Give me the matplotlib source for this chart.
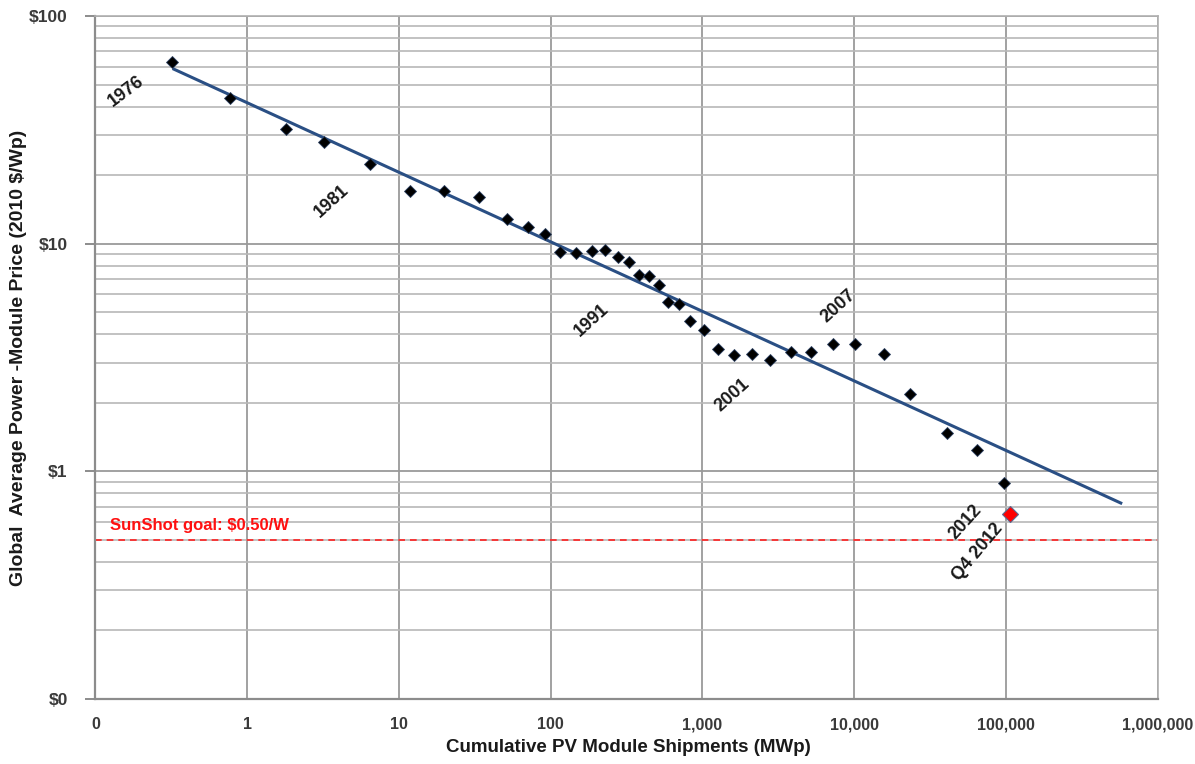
import numpy as np
import matplotlib
matplotlib.use("Agg")
import matplotlib.pyplot as plt
from matplotlib.ticker import FixedLocator, NullFormatter

# Datos (MWp acumulados, $/Wp 2010)
envios = [0.32, 0.77, 1.80, 3.22, 6.49, 11.9, 19.7, 33.5, 51.2, 70.4, 92.0,
          115, 146, 187, 227, 277, 330, 382, 446, 520, 590, 703, 832, 1018,
          1259, 1604, 2127, 2769, 3804, 5170, 7225, 10120, 15630, 23170,
          40600, 64300, 97300]
precio = [62.9, 43.5, 31.8, 28.1, 22.4, 17.0, 17.0, 16.1, 12.9, 11.8, 11.07,
          9.22, 9.13, 9.29, 9.38, 8.71, 8.27, 7.32, 7.21, 6.60, 5.53, 5.46,
          4.59, 4.19, 3.44, 3.24, 3.29, 3.09, 3.34, 3.34, 3.64, 3.64, 3.29,
          2.18, 1.475, 1.24, 0.888]

# Punto Q4 2012
q4_x = [106600]
q4_y = [0.651]

# Linea de tendencia (extremos)
tend_x = [0.322, 583000]
tend_y = [58.8, 0.721]

meta_sunshot = 0.50

ticks_x = [0.1, 1, 10, 100, 1000, 10000, 100000, 1000000]
etiq_x = ["0", "1", "10", "100", "1,000", "10,000", "100,000", "1,000,000"]
ticks_y = [0.1, 1, 10, 100]
etiq_y = ["$0", "$1", "$10", "$100"]

# Etiquetas de anios: (texto, x, y, rotacion)
anios = [("1976", 0.16, 46.9, 37),
         ("1981", 3.58, 15.4, 42),
         ("1991", 186, 4.59, 42),
         ("2001", 1581, 2.16, 42),
         ("2007", 7910, 5.34, 42),
         ("2012", 53900, 0.598, 48),
         ("Q4 2012", 65000, 0.44, 50)]

fuente = "Liberation Sans"

fig = plt.figure(figsize=(11.95, 7.64), dpi=100)
ax = fig.add_axes([0.0799, 0.0851, 0.8889, 0.8939])

ax.set_xscale("log")
ax.set_yscale("log")
ax.set_xlim(0.1, 1000000)
ax.set_ylim(0.1, 100)

# Rejilla
ax.xaxis.set_major_locator(FixedLocator(ticks_x))
ax.yaxis.set_major_locator(FixedLocator(ticks_y))
menores_y = [m * 10.0 ** e for e in range(-1, 2) for m in range(2, 10)]
ax.yaxis.set_minor_locator(FixedLocator(menores_y))
ax.xaxis.set_minor_locator(FixedLocator([]))
ax.yaxis.set_minor_formatter(NullFormatter())
ax.grid(True, which="major", axis="x", color="#9a9a9a", lw=1.3)
ax.grid(True, which="major", axis="y", color="#9a9a9a", lw=1.3)
ax.grid(True, which="minor", axis="y", color="#b8b8b8", lw=1.2)
ax.set_axisbelow(True)

for lado in ["top", "right"]:
    ax.spines[lado].set_color("#b0b0b0")
    ax.spines[lado].set_linewidth(1.2)
for lado in ["left", "bottom"]:
    ax.spines[lado].set_color("#8c8c8c")
    ax.spines[lado].set_linewidth(1.6)

ax.set_xticks(ticks_x)
ax.set_xticklabels(etiq_x)
ax.set_yticks(ticks_y)
ax.set_yticklabels(etiq_y)
ax.tick_params(axis="x", which="both", length=0, pad=13)
ax.tick_params(axis="y", which="major", length=7, width=1.4, color="#8c8c8c", pad=13)
ax.tick_params(axis="y", which="minor", length=0)
for t in ax.get_xticklabels():
    t.set_fontfamily(fuente)
    t.set_fontweight("bold")
    t.set_fontsize(11.5)
    t.set_color("#3a3a3a")
for t in ax.get_yticklabels():
    t.set_fontfamily(fuente)
    t.set_fontweight("bold")
    t.set_fontsize(12.5)
    t.set_color("#3a3a3a")

# Meta SunShot
ax.axhline(meta_sunshot, color="#ff2020", lw=1.2, ls=(0, (4, 3)))
ax.text(0.125, 0.58, "SunShot goal: $0.50/W", color="#ff1010",
        fontsize=12, fontweight="bold", family=fuente, va="center", ha="left")

# Tendencia
ax.plot(tend_x, tend_y, color="#2a4f84", lw=2.2, solid_capstyle="butt", zorder=3)

# Datos
ax.plot(envios, precio, ls="none", marker="D", markersize=6.5,
        markerfacecolor="black", markeredgecolor="#2a3f60", markeredgewidth=0.6, zorder=4)
ax.plot(q4_x, q4_y, ls="none", marker="D", markersize=8.5,
        markerfacecolor="#ff0000", markeredgecolor="#5a6a90", markeredgewidth=0.8, zorder=4)

for texto, x, y, rot in anios:
    ax.text(x, y, texto, rotation=rot, fontsize=13, family=fuente, fontweight="bold",
            color="#1a1a1a", ha="center", va="center", rotation_mode="anchor")

fig.text(628 / 1195, 1 - 748 / 764, "Cumulative PV Module Shipments (MWp)",
         fontsize=13.5, fontweight="bold", family=fuente, color="#1a1a1a",
         ha="center", va="center")
fig.text(19 / 1195, 1 - 358 / 764, "Global  Average Power -Module Price (2010 $/Wp)",
         fontsize=14, fontweight="bold", family=fuente, color="#1a1a1a",
         ha="center", va="center", rotation=90)

fig.savefig("out.png", dpi=100)
